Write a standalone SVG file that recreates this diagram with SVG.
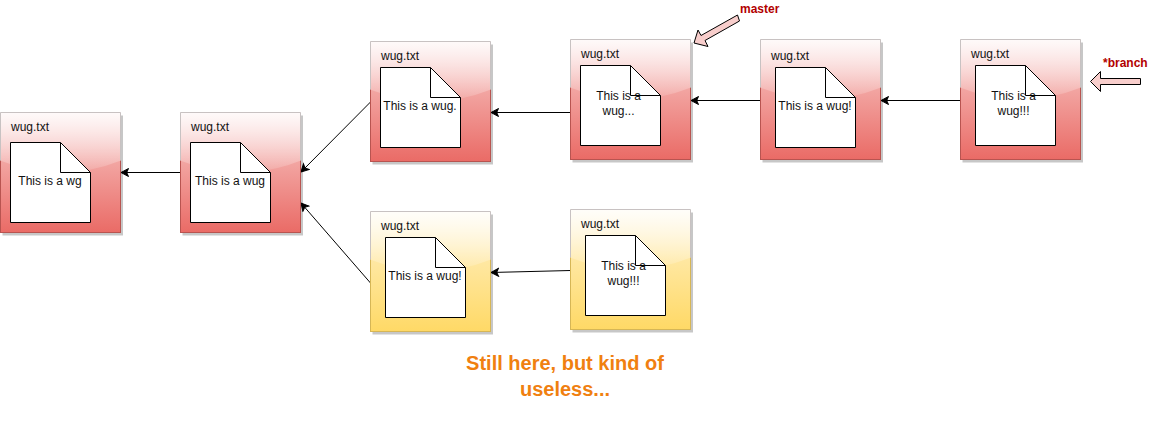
<svg xmlns="http://www.w3.org/2000/svg" width="1152" height="437" viewBox="0 0 1152 437">
<style>
text{font-family:"Liberation Sans",Arial,sans-serif;font-size:12px;fill:#111}
.m{text-anchor:middle}
.shadow{fill:#000;opacity:.22}
.red{fill:url(#r);stroke:#b85450}
.yel{fill:url(#y);stroke:#d6b656}
.gloss{fill:url(#g)}
.rim{fill:none;stroke:#c8c2c2}
.doc{fill:#fff;stroke:#000}
.fold{fill:none;stroke:#000}
.edge{fill:none;stroke:#000;marker-end:url(#a)}
.pink{fill:#f8cecc;stroke:#000}
.lab{font-weight:bold;fill:#b20000}
.note{font-weight:bold;font-size:20px;fill:#f08010}
</style>
<defs>
<linearGradient id="r" x1="0" y1="0" x2="0" y2="1"><stop offset="0" stop-color="#f8cecc"/><stop offset="1" stop-color="#ea6b66"/></linearGradient>
<linearGradient id="y" x1="0" y1="0" x2="0" y2="1"><stop offset="0" stop-color="#fff2cc"/><stop offset="1" stop-color="#ffd966"/></linearGradient>
<linearGradient id="g" x1="0" y1="0" x2="0" y2="1"><stop offset="0" stop-color="#fff" stop-opacity=".9"/><stop offset="1" stop-color="#fff" stop-opacity=".1"/></linearGradient>
<marker id="a" markerUnits="userSpaceOnUse" markerWidth="10" markerHeight="10" refX="8.500" refY="4.500" orient="auto"><path d="M1 .5L8.500 4.500L1 8.500L2.800 4.500Z" fill="#000" stroke="#000"/></marker>
<g id="box"><rect class="shadow" x="2" y="3" width="120.500" height="120"/></g>
<g id="gl"><path class="gloss" d="M-.5 -.5H120.500V48Q60 72 -.5 48Z"/><path class="rim" d="M0 48V0H120V48"/></g>
</defs>
<g id="connectors">
<path class="edge" d="M180.500 172.500H121"/>
<path class="edge" d="M370.500 102L301 172"/>
<path class="edge" d="M370.500 283L301 203"/>
<path class="edge" d="M570.500 112.500H491"/>
<path class="edge" d="M760.500 100.500H691"/>
<path class="edge" d="M960.500 100.500H881"/>
<path class="edge" d="M570.500 270.500L491 272.500"/>
</g>
<g id="n1" transform="translate(.5 112.500)"><use href="#box"/><rect class="red" width="120" height="120"/><use href="#gl"/><text x="10.500" y="18">wug.txt</text><path class="doc" d="M10 30H60L90 60V110H10Z"/><path class="fold" d="M60 30V60H90"/><text class="m" x="49.500" y="72">This is a wg</text></g>
<g id="n2" transform="translate(180.500 112.500)"><use href="#box"/><rect class="red" width="120" height="120"/><use href="#gl"/><text x="10.500" y="18">wug.txt</text><path class="doc" d="M10 30H60L90 60V110H10Z"/><path class="fold" d="M60 30V60H90"/><text class="m" x="49.500" y="72">This is a wug</text></g>
<g id="n3" transform="translate(370.500 41.500)"><use href="#box"/><rect class="red" width="120" height="120"/><use href="#gl"/><text x="10.500" y="18">wug.txt</text><path class="doc" d="M10 26H60L90 56V106H10Z"/><path class="fold" d="M60 26V56H90"/><text class="m" x="49.500" y="68">This is a wug.</text></g>
<g id="n4" transform="translate(570.500 39.500)"><use href="#box"/><rect class="red" width="120" height="120"/><use href="#gl"/><text x="10.500" y="18">wug.txt</text><path class="doc" d="M10 26H60L90 56V106H10Z"/><path class="fold" d="M60 26V56H90"/><text class="m" x="48" y="60.500">This is a</text><text class="m" x="48" y="75.500">wug...</text></g>
<g id="n5" transform="translate(760.500 39.500)"><use href="#box"/><rect class="red" width="120" height="120"/><use href="#gl"/><text x="10.500" y="20">wug.txt</text><path class="doc" d="M15 28H65L95 58V108H15Z"/><path class="fold" d="M65 28V58H95"/><text class="m" x="54.500" y="70">This is a wug!</text></g>
<g id="n6" transform="translate(960.500 39.500)"><use href="#box"/><rect class="red" width="120" height="120"/><use href="#gl"/><text x="10.500" y="18">wug.txt</text><path class="doc" d="M15 26H65L95 56V106H15Z"/><path class="fold" d="M65 26V56H95"/><text class="m" x="53" y="60.500">This is a</text><text class="m" x="53" y="75.500">wug!!!</text></g>
<g id="n7" transform="translate(370.500 211.500)"><use href="#box"/><rect class="yel" width="120" height="120"/><use href="#gl"/><text x="10.500" y="18">wug.txt</text><path class="doc" d="M15 26H65L95 56V106H15Z"/><path class="fold" d="M65 26V56H95"/><text class="m" x="54.500" y="68">This is a wug!</text></g>
<g id="n8" transform="translate(570.500 209.500)"><use href="#box"/><rect class="yel" width="120" height="120"/><use href="#gl"/><text x="10.500" y="18">wug.txt</text><path class="doc" d="M15 26H65L95 56V106H15Z"/><path class="fold" d="M65 26V56H95"/><text class="m" x="53" y="60.500">This is a</text><text class="m" x="53" y="75.500">wug!!!</text></g>
<g id="master"><path class="pink" d="M694 43L698 30L701 35.500L737.500 15L739.500 21L705 40.500L708 46.500Z"/><text class="lab" x="740" y="13">master</text></g>
<g id="branch"><path class="pink" d="M1090.500 81.500L1100.500 71.500V78.500H1140.500V84.500H1100.500V91.500Z"/><text class="lab" x="1103" y="67">*branch</text></g>
<g id="note"><text class="note m" x="565" y="370">Still here, but kind of</text><text class="note m" x="565" y="396">useless...</text></g>
</svg>
